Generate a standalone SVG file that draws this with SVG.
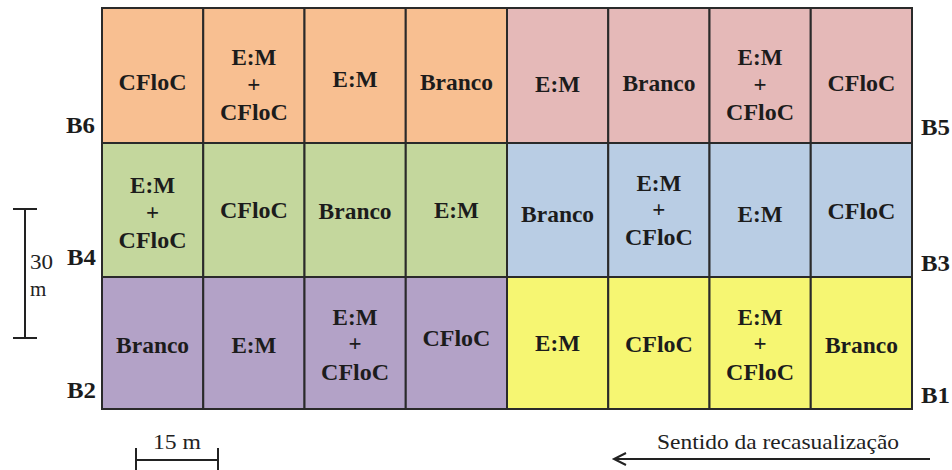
<svg xmlns="http://www.w3.org/2000/svg" width="952" height="470" viewBox="0 0 952 470">
<style>
text{font-family:"Liberation Serif","Times New Roman","DejaVu Serif",serif}
.c{stroke:#2a2a2a;stroke-width:2}
.t{font-weight:bold;font-size:23px;fill:#1c1c1c;text-anchor:middle}
.b{font-weight:bold;font-size:23px;fill:#1c1c1c}
.r{font-size:21px;fill:#222}
.or{fill:#F8BF91}.pk{fill:#E5B9B8}.gr{fill:#C4D79D}.bl{fill:#B9CDE4}.pu{fill:#B3A2C7}.ye{fill:#F6F672}
.ln{stroke:#222;stroke-width:2;fill:none}
</style>
<rect width="952" height="470" fill="#fff"/>
<!-- Row 1 -->
<g id="r1c1"><rect class="c or" x="102" y="8" width="101.25" height="135"/><text class="t" x="152.6" y="90" textLength="68" lengthAdjust="spacingAndGlyphs">CFloC</text></g>
<g id="r1c2"><rect class="c or" x="203.25" y="8" width="101.25" height="135"/><text class="t" x="253.9" y="65" textLength="45" lengthAdjust="spacingAndGlyphs">E:M</text><text class="t" x="253.9" y="92">+</text><text class="t" x="253.9" y="120" textLength="68" lengthAdjust="spacingAndGlyphs">CFloC</text></g>
<g id="r1c3"><rect class="c or" x="304.5" y="8" width="101.25" height="135"/><text class="t" x="355.1" y="87" textLength="45" lengthAdjust="spacingAndGlyphs">E:M</text></g>
<g id="r1c4"><rect class="c or" x="405.75" y="8" width="101.25" height="135"/><text class="t" x="456.4" y="90" textLength="73" lengthAdjust="spacingAndGlyphs">Branco</text></g>
<g id="r1c5"><rect class="c pk" x="507" y="8" width="101.25" height="135"/><text class="t" x="557.6" y="92" textLength="45" lengthAdjust="spacingAndGlyphs">E:M</text></g>
<g id="r1c6"><rect class="c pk" x="608.25" y="8" width="101.25" height="135"/><text class="t" x="658.9" y="91" textLength="73" lengthAdjust="spacingAndGlyphs">Branco</text></g>
<g id="r1c7"><rect class="c pk" x="709.5" y="8" width="101.25" height="135"/><text class="t" x="760.1" y="65" textLength="45" lengthAdjust="spacingAndGlyphs">E:M</text><text class="t" x="760.1" y="92">+</text><text class="t" x="760.1" y="120" textLength="68" lengthAdjust="spacingAndGlyphs">CFloC</text></g>
<g id="r1c8"><rect class="c pk" x="810.75" y="8" width="101.25" height="135"/><text class="t" x="861.4" y="91" textLength="68" lengthAdjust="spacingAndGlyphs">CFloC</text></g>
<!-- Row 2 -->
<g id="r2c1"><rect class="c gr" x="102" y="143" width="101.25" height="134"/><text class="t" x="152.6" y="193" textLength="45" lengthAdjust="spacingAndGlyphs">E:M</text><text class="t" x="152.6" y="220">+</text><text class="t" x="152.6" y="248" textLength="68" lengthAdjust="spacingAndGlyphs">CFloC</text></g>
<g id="r2c2"><rect class="c gr" x="203.25" y="143" width="101.25" height="134"/><text class="t" x="253.9" y="218" textLength="68" lengthAdjust="spacingAndGlyphs">CFloC</text></g>
<g id="r2c3"><rect class="c gr" x="304.5" y="143" width="101.25" height="134"/><text class="t" x="355.1" y="219" textLength="73" lengthAdjust="spacingAndGlyphs">Branco</text></g>
<g id="r2c4"><rect class="c gr" x="405.75" y="143" width="101.25" height="134"/><text class="t" x="456.4" y="218" textLength="45" lengthAdjust="spacingAndGlyphs">E:M</text></g>
<g id="r2c5"><rect class="c bl" x="507" y="143" width="101.25" height="134"/><text class="t" x="557.6" y="222" textLength="73" lengthAdjust="spacingAndGlyphs">Branco</text></g>
<g id="r2c6"><rect class="c bl" x="608.25" y="143" width="101.25" height="134"/><text class="t" x="658.9" y="191" textLength="45" lengthAdjust="spacingAndGlyphs">E:M</text><text class="t" x="658.9" y="217">+</text><text class="t" x="658.9" y="245" textLength="68" lengthAdjust="spacingAndGlyphs">CFloC</text></g>
<g id="r2c7"><rect class="c bl" x="709.5" y="143" width="101.25" height="134"/><text class="t" x="760.1" y="222" textLength="45" lengthAdjust="spacingAndGlyphs">E:M</text></g>
<g id="r2c8"><rect class="c bl" x="810.75" y="143" width="101.25" height="134"/><text class="t" x="861.4" y="219" textLength="68" lengthAdjust="spacingAndGlyphs">CFloC</text></g>
<!-- Row 3 -->
<g id="r3c1"><rect class="c pu" x="102" y="277" width="101.25" height="132"/><text class="t" x="152.6" y="353" textLength="73" lengthAdjust="spacingAndGlyphs">Branco</text></g>
<g id="r3c2"><rect class="c pu" x="203.25" y="277" width="101.25" height="132"/><text class="t" x="253.9" y="353" textLength="45" lengthAdjust="spacingAndGlyphs">E:M</text></g>
<g id="r3c3"><rect class="c pu" x="304.5" y="277" width="101.25" height="132"/><text class="t" x="355.1" y="325" textLength="45" lengthAdjust="spacingAndGlyphs">E:M</text><text class="t" x="355.1" y="351">+</text><text class="t" x="355.1" y="380" textLength="68" lengthAdjust="spacingAndGlyphs">CFloC</text></g>
<g id="r3c4"><rect class="c pu" x="405.75" y="277" width="101.25" height="132"/><text class="t" x="456.4" y="346" textLength="68" lengthAdjust="spacingAndGlyphs">CFloC</text></g>
<g id="r3c5"><rect class="c ye" x="507" y="277" width="101.25" height="132"/><text class="t" x="557.6" y="351" textLength="45" lengthAdjust="spacingAndGlyphs">E:M</text></g>
<g id="r3c6"><rect class="c ye" x="608.25" y="277" width="101.25" height="132"/><text class="t" x="658.9" y="352" textLength="68" lengthAdjust="spacingAndGlyphs">CFloC</text></g>
<g id="r3c7"><rect class="c ye" x="709.5" y="277" width="101.25" height="132"/><text class="t" x="760.1" y="325" textLength="45" lengthAdjust="spacingAndGlyphs">E:M</text><text class="t" x="760.1" y="351">+</text><text class="t" x="760.1" y="380" textLength="68" lengthAdjust="spacingAndGlyphs">CFloC</text></g>
<g id="r3c8"><rect class="c ye" x="810.75" y="277" width="101.25" height="132"/><text class="t" x="861.4" y="353" textLength="73" lengthAdjust="spacingAndGlyphs">Branco</text></g>
<!-- Block labels -->
<g id="B6"><text class="b" x="66" y="133" textLength="29" lengthAdjust="spacingAndGlyphs">B6</text></g>
<g id="B5"><text class="b" x="921" y="135" textLength="29" lengthAdjust="spacingAndGlyphs">B5</text></g>
<g id="B4"><text class="b" x="67" y="265" textLength="29" lengthAdjust="spacingAndGlyphs">B4</text></g>
<g id="B3"><text class="b" x="921" y="271" textLength="29" lengthAdjust="spacingAndGlyphs">B3</text></g>
<g id="B2"><text class="b" x="67" y="398" textLength="29" lengthAdjust="spacingAndGlyphs">B2</text></g>
<g id="B1"><text class="b" x="921" y="403" textLength="29" lengthAdjust="spacingAndGlyphs">B1</text></g>
<!-- Scale bars and direction -->
<g id="connectors">
<g id="scale30"><path class="ln" d="M25 209V338M13 209H37M13 338H37"/><text class="r" x="30" y="269" textLength="23" lengthAdjust="spacingAndGlyphs">30</text><text class="r" x="30" y="296">m</text></g>
<g id="scale15"><path class="ln" d="M136 460H218M136 448V470M218 448V470"/><text class="r" x="153" y="449" textLength="48" lengthAdjust="spacingAndGlyphs">15 m</text></g>
<g id="direction"><path class="ln" d="M930 459H614M626 453L614 459L626 465"/><text class="r" x="657" y="449" textLength="242" lengthAdjust="spacingAndGlyphs">Sentido da recasualização</text></g>
</g>
</svg>
